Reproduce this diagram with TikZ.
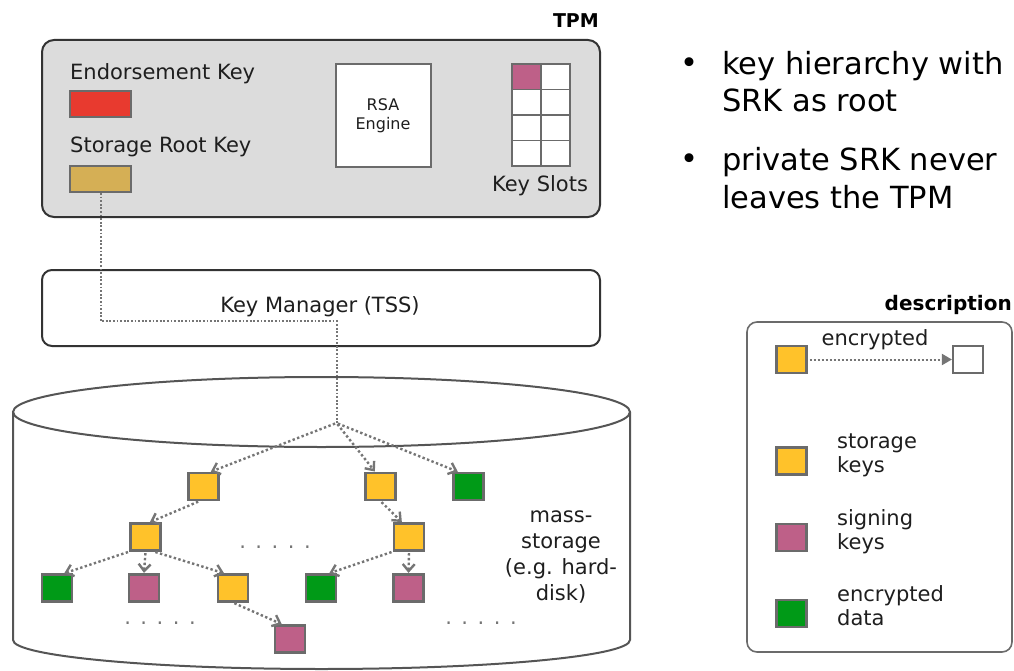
\documentclass[tikz,border=0pt]{standalone}
\usepackage{fontspec}
\setmainfont{DejaVu Sans}
\usetikzlibrary{arrows.meta}

\definecolor{tpmfill}{HTML}{DCDCDC}
\definecolor{frame}{HTML}{333333}
\definecolor{keyedge}{HTML}{6B6B6B}
\definecolor{ekred}{HTML}{E83A2F}
\definecolor{srktan}{HTML}{D5AF55}
\definecolor{storyellow}{HTML}{FFC22A}
\definecolor{signpink}{HTML}{BE6088}
\definecolor{datagreen}{HTML}{009A17}
\definecolor{linkgray}{HTML}{757575}
\definecolor{diskgray}{HTML}{555555}
\definecolor{labelink}{HTML}{1E1E1E}

\tikzset{
  lbl/.style={inner sep=0pt, text=labelink, font=\fontsize{21}{26}\selectfont},
  title/.style={inner sep=0pt, font=\bfseries\fontsize{19}{22}\selectfont},
  bullettxt/.style={inner sep=0pt, anchor=base west, font=\fontsize{30.5}{37}\selectfont},
  panel/.style={draw=frame, line width=2pt, rounded corners=12pt, inner sep=0pt},
  keybox/.style={draw=keyedge, line width=2.2pt, minimum width=30pt, minimum height=27pt, inner sep=0pt},
  slot/.style={draw=keyedge, line width=1.6pt, fill=white, minimum width=29pt, minimum height=25.5pt, inner sep=0pt},
  storagekey/.style={keybox, fill=storyellow},
  signkey/.style={keybox, fill=signpink},
  datakey/.style={keybox, fill=datagreen},
  enc/.style={draw=linkgray, line width=2.4pt, dash pattern=on 2.4pt off 2.4pt,
    -{Straight Barb[length=7pt,width=12pt,line width=2.4pt]}, shorten >=0.5pt, shorten <=1.5pt},
  srklink/.style={draw=linkgray, line width=2pt, dash pattern=on 1.8pt off 1.8pt},
  ellip/.style={inner sep=0pt, text=linkgray, font=\fontsize{21}{26}\selectfont}
}

\newcommand{\fivedots}{.\hskip9.5pt.\hskip9.5pt.\hskip9.5pt.\hskip9.5pt.}

\begin{document}
\begin{tikzpicture}[x=1pt, y=-1pt]
\useasboundingbox (0,0) rectangle (1014,671);

% ---------------- TPM ----------------
\node[title, anchor=east] (tpmlabel) at (599,21) {TPM};
\node[panel, fill=tpmfill, minimum width=558pt, minimum height=177pt] (tpm) at (321,128.5) {};

\node[lbl, anchor=west] (eklabel) at (70,74) {Endorsement Key};
\node[draw=keyedge, line width=2pt, fill=ekred, minimum width=61pt, minimum height=26pt, inner sep=0pt] (ek) at (100.5,104) {};
\node[lbl, anchor=west] (srklabel) at (70,147) {Storage Root Key};
\node[draw=keyedge, line width=2pt, fill=srktan, minimum width=61pt, minimum height=26pt, inner sep=0pt] (srk) at (100.5,179) {};

\node[draw=keyedge, line width=2pt, fill=white, minimum width=95pt, minimum height=103pt, inner sep=0pt,
      align=center, text=labelink, font=\fontsize{16}{19}\selectfont] (rsa) at (383,115.5) {RSA\\Engine};

% key slots: 2 columns x 4 rows
\foreach \r in {0,...,3}{
  \foreach \c in {0,1}{
    \node[slot] (slot-\r-\c) at ({526.5+29*\c},{76.75+25.5*\r}) {};
  }
}
\node[slot, fill=signpink] (slot-0-0) at (526.5,76.75) {};
\node[lbl] (slotlabel) at (540,186) {Key Slots};

% ---------------- bullets ----------------
\node[inner sep=0pt, font=\fontsize{30.5}{37}\selectfont] (b1) at (689,66) {•};
\node[bullettxt] (b1l1) at (722,75) {key hierarchy with};
\node[bullettxt] (b1l2) at (722,112) {SRK as root};
\node[inner sep=0pt, font=\fontsize{30.5}{37}\selectfont] (b2) at (689,162) {•};
\node[bullettxt] (b2l1) at (722,171) {private SRK never};
\node[bullettxt] (b2l2) at (722,208) {leaves the TPM};

% ---------------- key manager ----------------
\node[panel, fill=white, rounded corners=10pt, minimum width=558pt, minimum height=76pt] (km) at (321,308) {};
\node[lbl] (kmlabel) at (320,307) {Key Manager (TSS)};

% ---------------- mass storage ----------------
\draw[diskgray, line width=2pt] (321.5,412) ellipse [x radius=308.5, y radius=35];
\draw[diskgray, line width=2pt] (13,412) -- (13,640)
  arc[start angle=180, end angle=0, x radius=308.5, y radius=29] -- (630,412);

\node[lbl, align=center] (mslabel) at (561,557) {mass-\\storage\\(e.g. hard-\\disk)};

\coordinate (apex) at (336.5,423);
\coordinate (kmturn) at (336.5,321);
\draw[srklink] (srk.south) |- (kmturn) -- (apex);

\node[storagekey] (A) at (203.5,486.5) {};
\node[storagekey] (B) at (380.5,486.5) {};
\node[datakey]    (C) at (468.5,486.5) {};
\node[storagekey] (D) at (145.5,537) {};
\node[storagekey] (E) at (409,537) {};
\node[datakey]    (F) at (57,588) {};
\node[signkey]    (G) at (144,588) {};
\node[storagekey] (H) at (233,588) {};
\node[datakey]    (I) at (321,588) {};
\node[signkey]    (J) at (408.5,588) {};
\node[signkey]    (K) at (290,639) {};

\draw[enc] (apex) -- (A.65);
\draw[enc] (apex) -- (B.110);
\draw[enc] (apex) -- (C.125);
\draw[enc] (A.255) -- (D.75);
\draw[enc] (B.south) -- (E.115);
\draw[enc] (D.south west) -- (F.65);
\draw[enc] (D.south) -- (G.north);
\draw[enc] (D.300) -- (H.120);
\draw[enc] (E.south west) -- (I.62);
\draw[enc] (E.south) -- (J.north);
\draw[enc] (H.south) -- (K.118);

\node[ellip] (dotsmid) at (275,547) {\fivedots};
\node[ellip] (dotsleft) at (160,623) {\fivedots};
\node[ellip] (dotsright) at (481,623) {\fivedots};

% ---------------- legend ----------------
\node[title, anchor=east, font=\bfseries\fontsize{20}{23}\selectfont] (desclabel) at (1012,305) {description};
\node[draw=keyedge, line width=1.6pt, rounded corners=10pt, minimum width=265pt, minimum height=330pt, inner sep=0pt] (legend) at (879.5,487) {};

\node[storagekey] (lgfrom) at (791.5,359.5) {};
\node[keybox, fill=white] (lgto) at (968,359.5) {};
\draw[draw=linkgray, line width=2pt, dash pattern=on 2pt off 2pt,
      -{Triangle[length=10pt,width=11pt]}, shorten <=2pt] (lgfrom.east) -- (lgto.west);
\node[lbl] (lgenc) at (875,340) {encrypted};

\node[storagekey] (lgstore) at (791.5,461) {};
\node[lbl, anchor=west, align=left, font=\fontsize{21}{24}\selectfont] (lgstoretxt) at (837,455) {storage\\keys};
\node[signkey] (lgsign) at (791.5,537.5) {};
\node[lbl, anchor=west, align=left, font=\fontsize{21}{24}\selectfont] (lgsigntxt) at (837,531.5) {signing\\keys};
\node[datakey] (lgdata) at (791.5,613.5) {};
\node[lbl, anchor=west, align=left, font=\fontsize{21}{24}\selectfont] (lgdatatxt) at (837,605.5) {encrypted\\data};
\end{tikzpicture}
\end{document}
